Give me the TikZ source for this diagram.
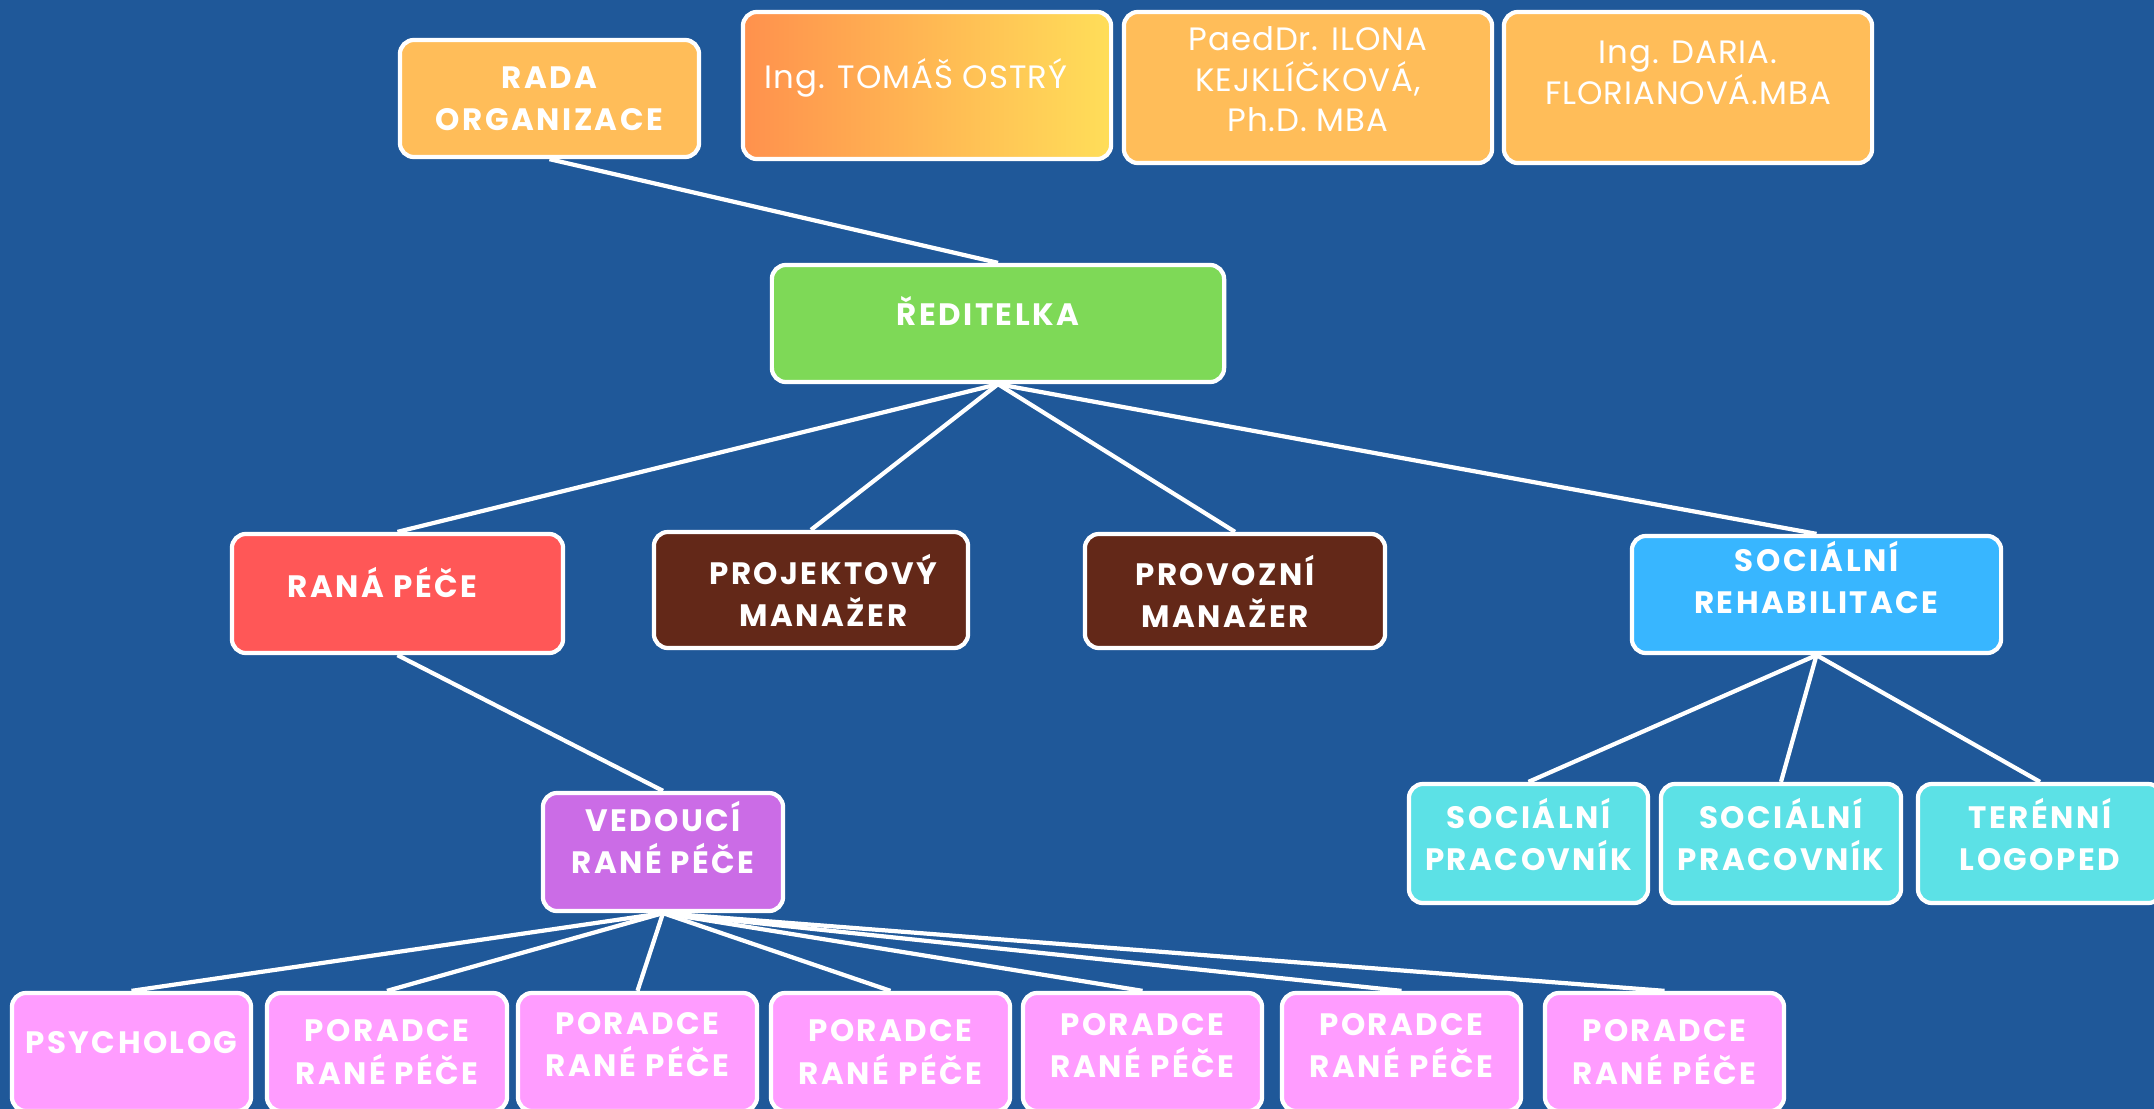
\documentclass[tikz,border=0pt]{standalone}
\usepackage{fontspec}
\setmainfont{Poppins}
\newfontfamily\boxfont{Poppins}[LetterSpace=8]
\newfontfamily\namefont{Poppins}[LetterSpace=3]
\usetikzlibrary{positioning}
\definecolor{bgblue}{HTML}{1F5899}
\definecolor{gold}{HTML}{FFBD59}
\definecolor{gradorange}{HTML}{FF914D}
\definecolor{gradyellow}{HTML}{FFDE59}
\definecolor{leafgreen}{HTML}{7ED957}
\definecolor{coral}{HTML}{FF5757}
\definecolor{darkbrown}{HTML}{632818}
\definecolor{skyblue}{HTML}{38B6FF}
\definecolor{turquoise}{HTML}{5CE1E6}
\definecolor{violet}{HTML}{CB6CE6}
\definecolor{lightpink}{HTML}{FF9CFF}

\begin{document}
\begin{tikzpicture}
    [   x = 0.01cm, y = -0.01cm
    ,   box/.style = {draw = white, line width = 1.2pt, rounded corners = 4pt,
                      text = white, align = center, inner sep = 0pt,
                      font = \boxfont\bfseries\fontsize{8.8}{12}\selectfont}
    ,   namebox/.style = {box, font = \namefont\fontsize{9.2}{11.6}\selectfont}
    ,   link/.style = {draw = white, line width = 1.2pt}
    ]
    \useasboundingbox (0,0) rectangle (2154,1109);
    \clip (0,0) rectangle (2154,1109);
    \fill[bgblue] (0,0) rectangle (2154,1109);

    % board and its members
    \node[box, fill = gold, minimum width = 2.99cm, minimum height = 1.17cm]
        (rada) at (549.5,98.5) {RADA\\ORGANIZACE};
    \node[namebox, left color = gradorange, right color = gradyellow,
          minimum width = 3.68cm, minimum height = 1.47cm, text depth = 6.6pt]
        (ostry) at (927,85.5) {Ing. TOMÁŠ OSTRÝ\hspace*{0.22cm}};
    \node[namebox, fill = gold, minimum width = 3.68cm, minimum height = 1.51cm, text depth = 4.8pt]
        (kejklickova) at (1308,87.5) {PaedDr. ILONA\\KEJKLÍČKOVÁ,\\Ph.D. MBA};
    \node[namebox, fill = gold, minimum width = 3.68cm, minimum height = 1.51cm, text depth = 8.2pt]
        (florianova) at (1688,87.5) {Ing. DARIA.\\FLORIANOVÁ.MBA};

    % management
    \node[box, fill = leafgreen, minimum width = 4.52cm, minimum height = 1.17cm, text depth = 7.4pt]
        (reditelka) at (998,323.5) {ŘEDITELKA\hspace*{0.2cm}};
    \node[box, fill = coral, minimum width = 3.31cm, minimum height = 1.19cm, text depth = 6.6pt]
        (rana) at (397.5,593.5) {RANÁ PÉČE\hspace*{0.3cm}};
    \node[box, fill = darkbrown, minimum width = 3.14cm, minimum height = 1.16cm]
        (projekt) at (811,590) {\hspace*{0.25cm}PROJEKTOVÝ\\\hspace*{0.25cm}MANAŽER};
    \node[box, fill = darkbrown, minimum width = 3.00cm, minimum height = 1.14cm]
        (provoz) at (1235,591) {PROVOZNÍ\hspace*{0.2cm}\\MANAŽER\hspace*{0.2cm}};
    \node[box, fill = skyblue, minimum width = 3.69cm, minimum height = 1.17cm, text depth = 9.8pt]
        (rehab) at (1816.5,594.5) {SOCIÁLNÍ\\REHABILITACE};

    % social rehabilitation team
    \node[box, fill = turquoise, minimum width = 2.39cm, minimum height = 1.19cm, text depth = 5.2pt]
        (socA) at (1528.5,843.5) {SOCIÁLNÍ\\PRACOVNÍK};
    \node[box, fill = turquoise, minimum width = 2.40cm, minimum height = 1.19cm, text depth = 5.2pt]
        (socB) at (1781,843.5) {SOCIÁLNÍ\\PRACOVNÍK};
    \node[box, fill = turquoise, minimum width = 2.44cm, minimum height = 1.19cm, text depth = 5.2pt]
        (logoped) at (2040,843.5) {TERÉNNÍ\\LOGOPED};

    % early care team
    \node[box, fill = violet, minimum width = 2.40cm, minimum height = 1.18cm, text depth = 8.2pt]
        (vedouci) at (663,852) {VEDOUCÍ\\RANÉ PÉČE};
    \node[box, fill = lightpink, minimum width = 2.39cm, minimum height = 1.18cm, text depth = 5.2pt]
        (psycholog) at (131.5,1052) {PSYCHOLOG};
    \node[box, fill = lightpink, minimum width = 2.40cm, minimum height = 1.18cm]
        (poradceA) at (387,1052) {PORADCE\\RANÉ PÉČE};
    \node[box, fill = lightpink, minimum width = 2.39cm, minimum height = 1.18cm, text depth = 4.4pt]
        (poradceB) at (637.5,1052) {PORADCE\\RANÉ PÉČE};
    \node[box, fill = lightpink, minimum width = 2.39cm, minimum height = 1.18cm]
        (poradceC) at (890.5,1052) {PORADCE\\RANÉ PÉČE};
    \node[box, fill = lightpink, minimum width = 2.39cm, minimum height = 1.18cm, text depth = 3.6pt]
        (poradceD) at (1142.5,1052) {PORADCE\\RANÉ PÉČE};
    \node[box, fill = lightpink, minimum width = 2.39cm, minimum height = 1.18cm, text depth = 3.6pt]
        (poradceE) at (1401.5,1052) {PORADCE\\RANÉ PÉČE};
    \node[box, fill = lightpink, minimum width = 2.39cm, minimum height = 1.18cm]
        (poradceF) at (1664.5,1052) {PORADCE\\RANÉ PÉČE};

    % connectors
    \draw[link] (rada.south) -- (reditelka.north);
    \draw[link] (reditelka.south) -- (rana.north);
    \draw[link] (reditelka.south) -- (projekt.north);
    \draw[link] (reditelka.south) -- (provoz.north);
    \draw[link] (reditelka.south) -- (rehab.north);
    \draw[link] (rana.south) -- (vedouci.north);
    \draw[link] (rehab.south) -- (socA.north);
    \draw[link] (rehab.south) -- (socB.north);
    \draw[link] (rehab.south) -- (logoped.north);
    \draw[link] (vedouci.south) -- (psycholog.north);
    \draw[link] (vedouci.south) -- (poradceA.north);
    \draw[link] (vedouci.south) -- (poradceB.north);
    \draw[link] (vedouci.south) -- (poradceC.north);
    \draw[link] (vedouci.south) -- (poradceD.north);
    \draw[link] (vedouci.south) -- (poradceE.north);
    \draw[link] (vedouci.south) -- (poradceF.north);
\end{tikzpicture}
\end{document}
